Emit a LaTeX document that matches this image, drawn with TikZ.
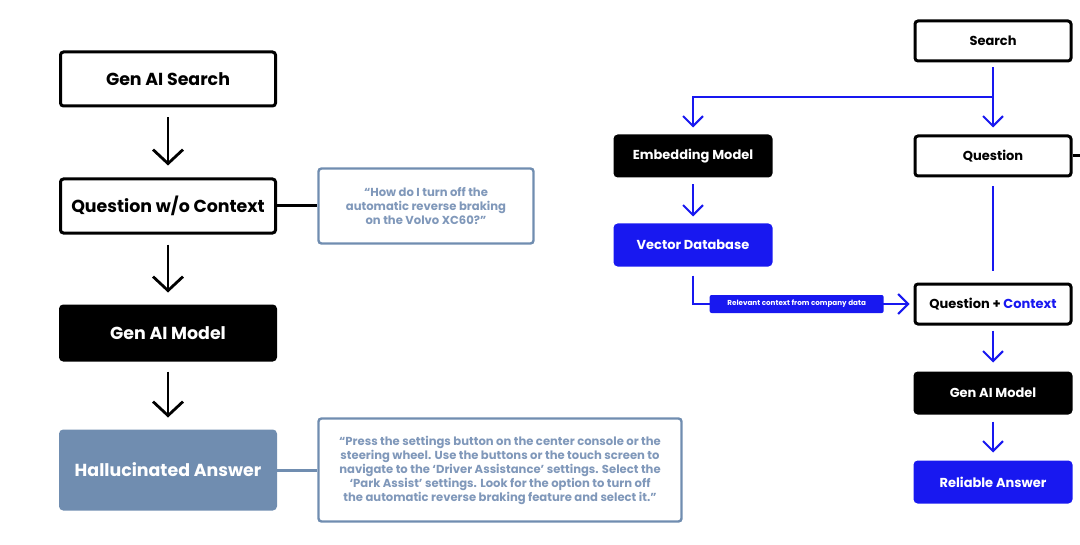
\documentclass[tikz,border=0pt]{standalone}
\usepackage{fontspec}
\setmainfont{Poppins}
\usepackage{xcolor}
\usetikzlibrary{positioning, arrows.meta}

\definecolor{ragblue}{RGB}{24,24,240}
\definecolor{slate}{RGB}{112,141,176}
\definecolor{slatetext}{RGB}{128,152,186}

\begin{document}
\begin{tikzpicture}[
  x=0.5pt, y=-0.5pt,
  every node/.style={inner sep=2pt, font=\bfseries},
  bigbox/.style={draw=black, line width=1.5pt, rounded corners=1.5pt,
    minimum width=107.5pt, minimum height=27pt, font=\fontsize{8.7}{10}\selectfont\bfseries},
  smallbox/.style={draw=black, line width=1.5pt, rounded corners=1.5pt,
    minimum width=78pt, minimum height=20pt, font=\fontsize{6.5}{7.5}\selectfont\bfseries},
  callout/.style={draw=slate, line width=1.2pt, rounded corners=1.5pt, align=center,
    text=slatetext, font=\fontsize{5.8}{7}\selectfont\bfseries},
  blkarrow/.style={-{Straight Barb[length=7pt, width=15pt]}, line width=1.4pt,
    shorten <=5pt, shorten >=6pt},
  barrow/.style={-{Straight Barb[length=5pt, width=10pt]}, ragblue, line width=1pt},
  bline/.style={ragblue, line width=1pt},
  ctxlabel/.style={fill=ragblue, text=white, rounded corners=1pt, minimum width=87pt,
    minimum height=9pt, inner sep=1pt, font=\fontsize{3.6}{4}\selectfont\bfseries}
]
\useasboundingbox (0,0) rectangle (1080,545);

% Left: search without context
\node[bigbox] (gsearch) at (168,79) {Gen AI Search};
\node[bigbox, below=35pt of gsearch] (qnoctx) {Question w/o Context};
\node[bigbox, fill=black, text=white, below=35pt of qnoctx] (lmodel) {Gen AI Model};
\node[bigbox, draw=slate, fill=slate, text=white, minimum height=39pt,
      below=34pt of lmodel] (halluc) {Hallucinated Answer};

\draw[blkarrow] (gsearch) -- (qnoctx);
\draw[blkarrow] (qnoctx) -- (lmodel);
\draw[blkarrow] (lmodel) -- (halluc);

\node[callout, minimum width=107.5pt, minimum height=37.5pt] (callq) at (426,206)
  {“How do I turn off the\\automatic reverse braking\\on the Volvo XC60?”};
\node[callout, minimum width=181.5pt, minimum height=51.5pt] (calla) at (500,470)
  {“Press the settings button on the center console or the\\steering wheel. Use the buttons or the touch screen to\\navigate to the ‘Driver Assistance’ settings. Select the\\‘Park Assist’ settings. Look for the option to turn off\\the automatic reverse braking feature and select it.”};

\draw[line width=1.5pt] (qnoctx) -- (callq);
\draw[slate, line width=1.5pt] (halluc) -- (calla);

% Right: search with retrieved context
\node[smallbox] (search) at (993,41) {Search};
\node[smallbox] (ques) at (993,156) {Question};
\node[smallbox, fill=black, text=white] (embed) at (693,156) {Embedding Model};
\node[smallbox, draw=ragblue, fill=ragblue, text=white, below=23pt of embed] (vecdb) {Vector Database};
\node[smallbox] (qctx) at (993,304) {Question + \textcolor{ragblue}{Context}};
\node[smallbox, fill=black, text=white, below=23pt of qctx] (rmodel) {Gen AI Model};
\node[smallbox, draw=ragblue, fill=ragblue, text=white, below=23pt of rmodel] (reliable) {Reliable Answer};

\coordinate (split) at (993,97);
\coordinate (qout) at (1080,156);

\draw[bline, shorten <=2.5pt] (search) -- (split);
\draw[barrow, shorten >=3.5pt] (split) -| (embed);
\draw[barrow, shorten >=3.5pt] (split) -- (ques);
\draw[line width=1.5pt] (ques) -- (qout);
\draw[barrow, shorten <=3.5pt, shorten >=3.5pt] (embed) -- (vecdb);
\draw[barrow, shorten <=4.5pt, shorten >=2pt] (vecdb) |- (qctx)
  node[ctxlabel, pos=0.735] (ctxlbl) {Relevant context from company data};
\draw[bline, shorten <=4.5pt, shorten >=6pt] (ques) -- (qctx);
\draw[barrow, shorten <=2.5pt, shorten >=4.5pt] (qctx) -- (rmodel);
\draw[barrow, shorten <=3.5pt, shorten >=4pt] (rmodel) -- (reliable);

\end{tikzpicture}
\end{document}
